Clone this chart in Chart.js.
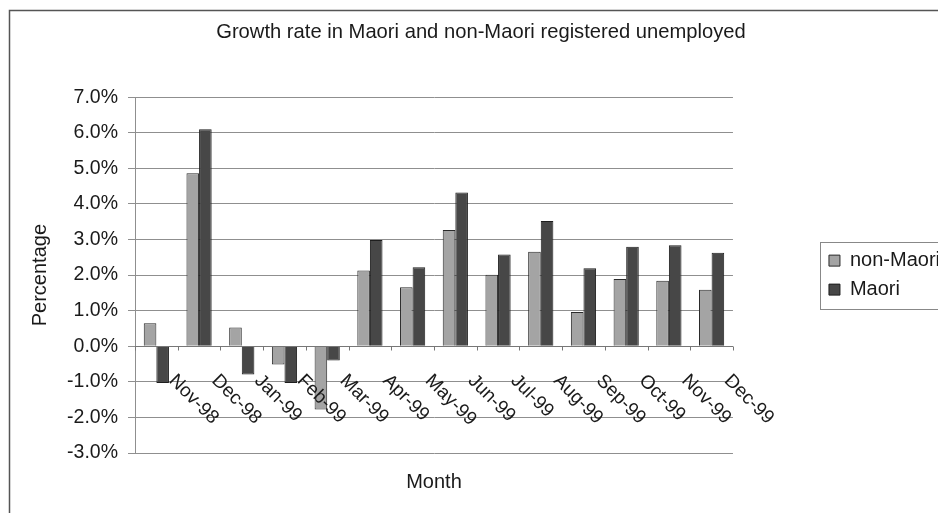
<!DOCTYPE html>
<html>
<head>
<meta charset="utf-8">
<script src="https://cdn.jsdelivr.net/npm/chart.js@4/dist/chart.umd.min.js"></script>
<style>
  html, body { margin: 0; padding: 0; overflow: hidden; background: #fff; }
  #wrap { position: absolute; left: 0; top: 0; width: 960px; height: 513px; }
</style>
</head>
<body>
<div id="wrap"><canvas id="c"></canvas></div>
<script>
const categories = ['Nov-98','Dec-98','Jan-99','Feb-99','Mar-99','Apr-99','May-99','Jun-99','Jul-99','Aug-99','Sep-99','Oct-99','Nov-99','Dec-99'];
const nonMaori = [0.65, 4.86, 0.53, -0.51, -1.78, 2.13, 1.66, 3.27, 2.01, 2.66, 0.96, 1.89, 1.84, 1.59];
const maori = [-1.03, 6.10, -0.79, -1.03, -0.40, 2.99, 2.22, 4.32, 2.58, 3.52, 2.19, 2.80, 2.84, 2.63];
const yMin = -3, yMax = 7, yStep = 1;

const FONT = "'Liberation Sans', Arial, sans-serif";
const TXT = '#1a1a1a';

const decor = {
  id: 'decor',
  beforeDraw(chart) {
    const ctx = chart.ctx;
    ctx.save();
    ctx.strokeStyle = '#555';
    ctx.lineWidth = 1.5;
    ctx.strokeRect(9.5, 10.5, chart.width + 20, chart.height + 20);
    ctx.restore();
  },
  afterDraw(chart) {
    const ctx = chart.ctx;
    const xs = chart.scales.x, ys = chart.scales.y;
    const area = chart.chartArea;
    const y0 = Math.round(ys.getPixelForValue(0)) + 0.5;
    ctx.save();
    ctx.strokeStyle = '#777';
    ctx.lineWidth = 1;
    ctx.beginPath();
    ctx.moveTo(area.left, y0);
    ctx.lineTo(area.right, y0);
    const n = categories.length;
    for (let i = 0; i <= n; i++) {
      const x = Math.round(xs.getPixelForValue(i - 0.5)) + 0.5;
      ctx.moveTo(x, y0);
      ctx.lineTo(x, y0 + 4);
    }
    ctx.stroke();
    ctx.fillStyle = TXT;
    ctx.font = '19px ' + FONT;
    ctx.textAlign = 'left';
    ctx.textBaseline = 'alphabetic';
    categories.forEach((lab, i) => {
      const cx = xs.getPixelForValue(i);
      ctx.save();
      ctx.translate(cx + 12, y0 + 35);
      ctx.rotate(Math.PI / 4);
      ctx.fillText(lab, 0, 0);
      ctx.restore();
    });
    const lg = chart.legend;
    if (lg && lg.legendHitBoxes && lg.legendHitBoxes.length) {
      const hb = lg.legendHitBoxes;
      const top = hb[0].top - 9;
      const bot = hb[hb.length - 1].top + hb[hb.length - 1].height + 9;
      ctx.strokeStyle = '#888';
      ctx.lineWidth = 1;
      ctx.strokeRect(Math.round(lg.left) + 0.5, Math.round(top) + 0.5, 200, Math.round(bot - top));
    }
    ctx.restore();
  }
};

new Chart(document.getElementById('c'), {
  type: 'bar',
  data: {
    labels: categories,
    datasets: [
      { label: 'non-Maori', data: nonMaori, backgroundColor: '#a4a4a4', borderColor: '#2a2a2a', borderWidth: 1 },
      { label: 'Maori', data: maori, backgroundColor: '#474747', borderColor: '#1e1e1e', borderWidth: 1 }
    ]
  },
  options: {
    responsive: true,
    maintainAspectRatio: false,
    animation: false,
    events: [],
    layout: { padding: { left: 12, right: 10, top: 0, bottom: 0 } },
    datasets: { bar: { categoryPercentage: 0.59, barPercentage: 1.0 } },
    plugins: {
      title: {
        display: true,
        text: 'Growth rate in Maori and non-Maori registered unemployed',
        color: TXT,
        font: { family: FONT, size: 20.2, weight: 'normal' },
        padding: { top: 20, bottom: 53 }
      },
      legend: {
        display: true,
        position: 'right',
        fullSize: false,
        labels: {
          color: TXT,
          font: { family: FONT, size: 20 },
          boxWidth: 11,
          boxHeight: 11,
          padding: 9
        }
      },
      tooltip: { enabled: false }
    },
    scales: {
      x: {
        grid: { display: false, drawTicks: false },
        border: { display: false },
        ticks: { display: false },
        title: {
          display: true,
          text: 'Month',
          color: TXT,
          font: { family: FONT, size: 20 },
          padding: { top: 0, bottom: 19 }
        },
        afterFit(scale) { scale.height = 60; }
      },
      y: {
        min: yMin,
        max: yMax,
        ticks: {
          stepSize: yStep,
          color: TXT,
          font: { family: FONT, size: 19.5 },
          padding: 10,
          callback: v => v.toFixed(1) + '%'
        },
        grid: { color: '#8f8f8f', lineWidth: 1, tickLength: 7, drawTicks: true },
        border: { display: true, color: '#8f8f8f' },
        title: {
          display: true,
          text: 'Percentage',
          color: TXT,
          font: { family: FONT, size: 20 },
          padding: { top: 16, bottom: 0 }
        },
        afterFit(scale) { scale.width = 123; }
      },
      spacer: {
        type: 'linear',
        position: 'right',
        display: true,
        grid: { display: false, drawTicks: false },
        border: { display: false },
        ticks: { display: false },
        afterFit(scale) { scale.width = 87; }
      }
    }
  },
  plugins: [decor]
});
</script>
</body>
</html>
